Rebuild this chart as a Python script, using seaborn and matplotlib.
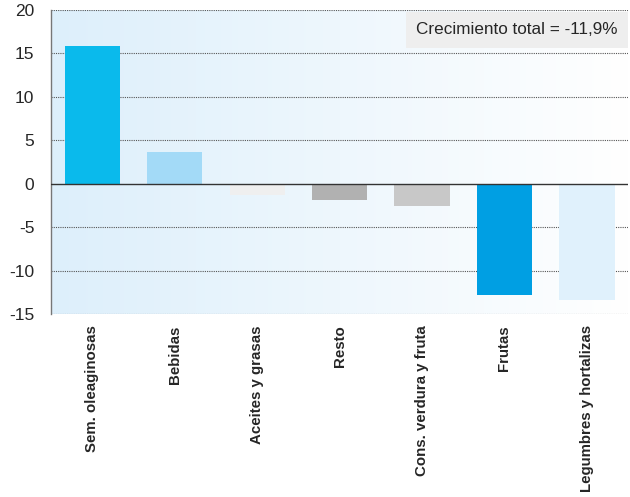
import numpy as np
import pandas as pd
import matplotlib
matplotlib.use("Agg")
import matplotlib.pyplot as plt
import seaborn as sns
from matplotlib.colors import LinearSegmentedColormap

categories = ["Sem. oleaginosas", "Bebidas", "Aceites y grasas", "Resto",
              "Cons. verdura y fruta", "Frutas", "Legumbres y hortalizas"]
values = [15.9, 3.7, -1.3, -1.85, -2.6, -12.8, -13.4]
bar_colors = ["#0ABAEC", "#A3DAF7", "#EFEFEF", "#B1B1B1", "#C8C8C8", "#009FE3", "#E0F1FC"]
yticks = [-15, -10, -5, 0, 5, 10, 15, 20]
annotation = "Crecimiento total = -11,9%"

sns.set_style("white")
plt.rcParams['font.family'] = ['Liberation Sans', 'DejaVu Sans']

fig = plt.figure(figsize=(6.3, 4.97), dpi=100)
ax = fig.add_axes([0.081, 0.368, 0.916, 0.612])

df = pd.DataFrame({"cat": categories, "val": values})
sns.barplot(data=df, x="cat", y="val", hue="cat", palette=bar_colors,
            legend=False, width=0.67, ax=ax, saturation=1, zorder=3, linewidth=0)

ax.set_ylim(-15, 20)
ax.set_xlim(-0.5, len(categories) - 0.5)

# gradient background
grad = np.linspace(0, 1, 256).reshape(1, -1)
cmap = LinearSegmentedColormap.from_list("bg", ["#DDEFFB", "#FFFFFF"])
ax.imshow(grad, aspect="auto", cmap=cmap, extent=[-0.5, len(categories) - 0.5, -15, 20],
          zorder=0)

for t in yticks:
    if t != 0:
        ax.axhline(t, color="#555555", lw=0.8, ls=(0, (1, 1)), zorder=1)
ax.axhline(0, color="#333333", lw=1.0, zorder=4)

ax.set_yticks(yticks)
ax.set_yticklabels([str(t) for t in yticks], fontsize=12.5,
                   family=['Liberation Sans Narrow', 'Liberation Sans'])
ax.set_xticks(range(len(categories)))
ax.set_xticklabels(categories, rotation=90, fontsize=10.8, fontweight="bold")
ax.tick_params(axis='y', length=0, pad=12)
ax.tick_params(axis='x', length=0, pad=8)
ax.set_xlabel("")
ax.set_ylabel("")

for s in ["top", "right", "bottom"]:
    ax.spines[s].set_visible(False)
ax.spines["left"].set_color("#777777")
ax.spines["left"].set_linewidth(1.0)

ax.text(0.982, 0.935, annotation, transform=ax.transAxes, ha="right", va="center",
        fontsize=12.3, zorder=6,
        bbox=dict(boxstyle="square,pad=0.62", facecolor="#EEEEEE", edgecolor="none"))

fig.savefig("out.png", dpi=100)
